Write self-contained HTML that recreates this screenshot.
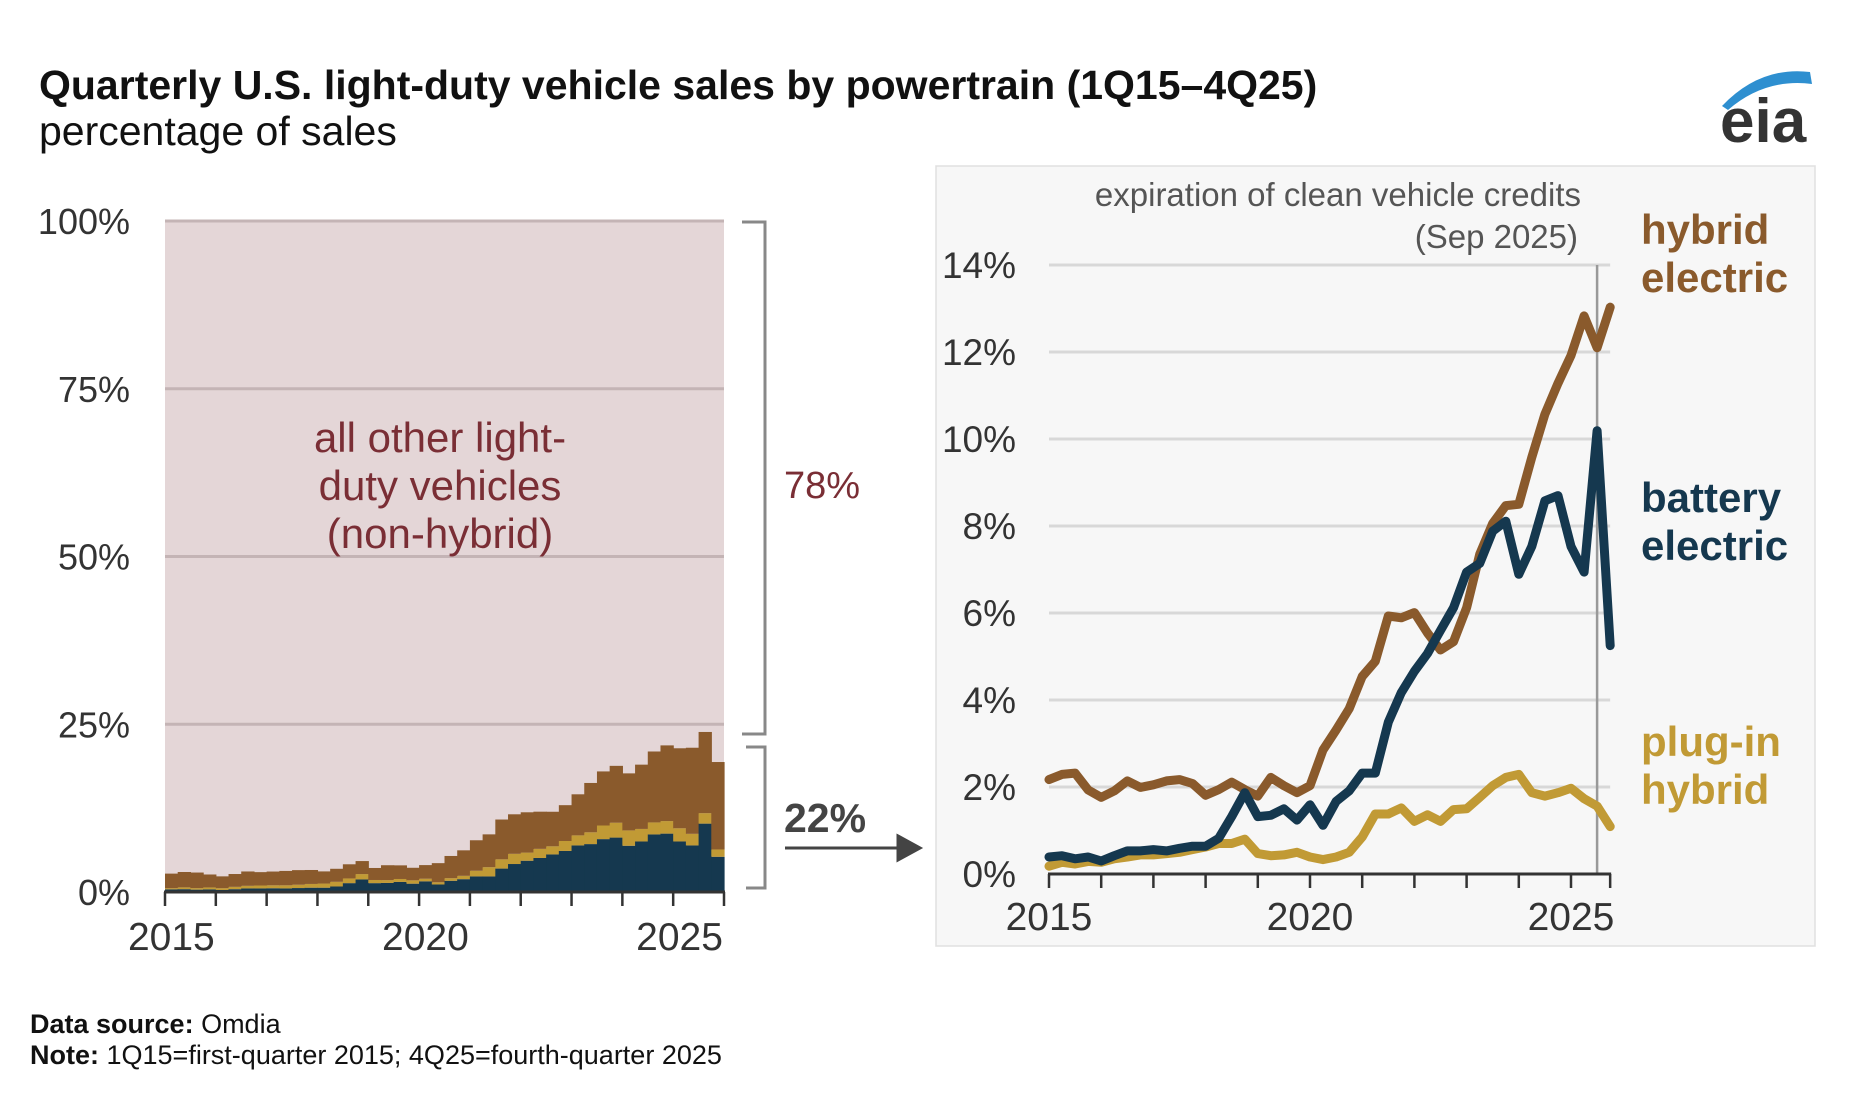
<!DOCTYPE html>
<html><head><meta charset="utf-8"><style>
body{margin:0;background:#fff;}
svg{display:block;font-family:"Liberation Sans",Arial,sans-serif;}
</style></head><body>
<svg id="c" width="1852" height="1100" viewBox="0 0 1852 1100">
<text x="39" y="99" font-size="41" font-weight="bold" fill="#111">Quarterly U.S. light-duty vehicle sales by powertrain (1Q15–4Q25)</text>
<text x="39" y="145" font-size="41" fill="#111">percentage of sales</text>
<g>
<path d="M1722 106 Q1760 66 1810 72 L1812 84 Q1765 78 1728 110 Z" fill="#2e8fd0"/>
<text x="1720" y="142" font-size="62" font-weight="bold" fill="#333">eia</text>
</g>
<g id="left"></g>
<g id="right"></g>
<text x="30" y="1033" font-size="27" fill="#111"><tspan font-weight="bold">Data source:</tspan> Omdia</text>
<text x="30" y="1064" font-size="27" fill="#111"><tspan font-weight="bold">Note:</tspan> 1Q15=first-quarter 2015; 4Q25=fourth-quarter 2025</text>
</svg>
<script>
const years = [2015,2020,2025];
const hev = [2.17,2.29,2.32,1.93,1.76,1.91,2.14,1.99,2.05,2.14,2.17,2.08,1.81,1.94,2.11,1.94,1.79,2.22,2.03,1.87,2.03,2.85,3.31,3.8,4.54,4.89,5.93,5.89,6.01,5.54,5.15,5.34,6.12,7.35,8.06,8.47,8.5,9.58,10.57,11.28,11.92,12.83,12.1,13.03];
const bev = [0.39,0.42,0.35,0.39,0.30,0.42,0.53,0.53,0.56,0.53,0.59,0.64,0.64,0.82,1.32,1.87,1.32,1.35,1.5,1.24,1.59,1.12,1.67,1.91,2.32,2.32,3.49,4.17,4.66,5.07,5.6,6.12,6.94,7.14,7.88,8.11,6.89,7.53,8.58,8.7,7.53,6.94,10.19,5.25];
const phev = [0.18,0.27,0.23,0.29,0.27,0.35,0.39,0.44,0.44,0.47,0.5,0.56,0.62,0.7,0.7,0.8,0.47,0.42,0.44,0.5,0.39,0.33,0.39,0.5,0.85,1.38,1.38,1.52,1.21,1.36,1.21,1.48,1.5,1.76,2.03,2.22,2.29,1.87,1.79,1.87,1.97,1.73,1.56,1.09];
const leftTicks = [0,25,50,75,100];
const rightTicks = [0,2,4,6,8,10,12,14];
const shares = ["78%","22%"];
const NS="http://www.w3.org/2000/svg";
const C={hev:"#8a5a2c",bev:"#15384f",phev:"#c19a35"};
function mk(p,t,a,txt){const e=document.createElementNS(NS,t);for(const k in a)e.setAttribute(k,a[k]);if(txt!==undefined)e.textContent=txt;p.appendChild(e);return e;}
const n=hev.length;
// LEFT
const L=document.getElementById('left');
const lx0=165,lx1=724,ly0=892,ly1=221;
const bw=(lx1-lx0)/n;
const lY=v=>ly0-(v/100)*(ly0-ly1);
const lX=i=>lx0+i*bw;
let bg=mk(L,'rect',{x:lx0,y:ly1,width:lx1-lx0,height:ly0-ly1,fill:'#e4d6d7'});


leftTicks.forEach(t=>{
 if(t>0){let g=mk(L,'line',{x1:lx0,x2:lx1,y1:lY(t),y2:lY(t),stroke:'#c4b4b5','stroke-width':3});
 
 }
 let tx=mk(L,'text',{x:130,y:lY(t)+13,'font-size':36,fill:'#333','text-anchor':'end'},t+'%');
 
 
});
for(let i=0;i<n;i++){
 const b=bev[i],p=phev[i],h=hev[i];
 let r1=mk(L,'rect',{x:lX(i),y:lY(b),width:bw+0.6,height:lY(0)-lY(b),fill:C.bev});
 
 
 let r2=mk(L,'rect',{x:lX(i),y:lY(b+p),width:bw+0.6,height:lY(b)-lY(b+p),fill:C.phev});
 
 
 let r3=mk(L,'rect',{x:lX(i),y:lY(b+p+h),width:bw+0.6,height:lY(b+p)-lY(b+p+h),fill:C.hev});
 
 
}
let ax=mk(L,'line',{x1:lx0-1,x2:lx1+1,y1:ly0,y2:ly0,stroke:'#333','stroke-width':3});


for(let yi=0;yi<=11;yi++){
 let tk=mk(L,'line',{x1:lx0+yi*4*bw,x2:lx0+yi*4*bw,y1:ly0,y2:ly0+14,stroke:'#333','stroke-width':2.5});
 
 
}
years.forEach(y=>{
 let t=mk(L,'text',{x:lX((y-2015)*4)+bw/2,y:950,'font-size':39,fill:'#333','text-anchor':'middle'},y);
 
 
});
['all other light-','duty vehicles','(non-hybrid)'].forEach((s,i)=>{
 let t=mk(L,'text',{x:440,y:452+i*48,'font-size':42,fill:'#7a2e35','text-anchor':'middle'},s);
 
 
});
let br1=mk(L,'path',{d:'M742 222 H765 V734 H742',fill:'none',stroke:'#888','stroke-width':3});


let br2=mk(L,'path',{d:'M746 747 H765 V888 H746',fill:'none',stroke:'#888','stroke-width':3});


let s78=mk(L,'text',{x:784,y:498,'font-size':38,fill:'#7a2e35'},shares[0]);


let s22=mk(L,'text',{x:784,y:832,'font-size':41,'font-weight':'bold',fill:'#444'},shares[1]);


let ar=mk(L,'path',{d:'M785 848 H900 M898 836 L920 848 L898 860 Z',stroke:'#444','stroke-width':3,fill:'#444'});


// RIGHT
const R=document.getElementById('right');
let pn=mk(R,'rect',{x:936,y:166,width:879,height:780,fill:'#f7f7f7',stroke:'#e0e0e0','stroke-width':1.5});


const rx0=1049,pq=13.05,ry0=874,ry14=265;
const rX=i=>rx0+i*pq;
const rY=v=>ry0-(v/14)*(ry0-ry14);
const rx1=rX(n-1);
rightTicks.forEach(t=>{
 if(t>0){let g=mk(R,'line',{x1:rx0,x2:rx1,y1:rY(t),y2:rY(t),stroke:'#d8d8d8','stroke-width':3});
 
 }
 let tx=mk(R,'text',{x:1016,y:rY(t)+13,'font-size':37,fill:'#333','text-anchor':'end'},t+'%');
 
 
});
let vl=mk(R,'line',{x1:rX(42),x2:rX(42),y1:rY(14),y2:ry0,stroke:'#999','stroke-width':2.5});


let a1=mk(R,'text',{x:1581,y:206,'font-size':33,fill:'#555','text-anchor':'end'},'expiration of clean vehicle credits');


let a2=mk(R,'text',{x:1578,y:248,'font-size':33,fill:'#555','text-anchor':'end'},'(Sep 2025)');


function line(arr,col,name){
 let d=arr.map((v,i)=>(i?'L':'M')+rX(i).toFixed(1)+' '+rY(v).toFixed(1)).join(' ');
 let p=mk(R,'path',{d:d,fill:'none',stroke:col,'stroke-width':9,'stroke-linejoin':'round','stroke-linecap':'round'});
 
 
}
line(phev,C.phev,'line-plug-in-hybrid');
line(hev,C.hev,'line-hybrid-electric');
line(bev,C.bev,'line-battery-electric');
let rax=mk(R,'line',{x1:rx0-1,x2:rx1+1,y1:ry0,y2:ry0,stroke:'#333','stroke-width':3});


for(let yi=0;yi<=11;yi++){
 let tk=mk(R,'line',{x1:rX(yi*4)-(yi==11?pq:0),x2:rX(yi*4)-(yi==11?pq:0),y1:ry0,y2:ry0+14,stroke:'#333','stroke-width':2.5});
 
 
}
years.forEach(y=>{
 let t=mk(R,'text',{x:rX((y-2015)*4),y:930,'font-size':39,fill:'#333','text-anchor':'middle'},y);
 
 
});
[['hybrid','electric',C.hev,244,'legend-hybrid-electric'],['battery','electric',C.bev,512,'legend-battery-electric'],['plug-in','hybrid',C.phev,756,'legend-plug-in-hybrid']].forEach(l=>{
 let t=mk(R,'text',{x:1641,y:l[3],'font-size':42,'font-weight':'bold',fill:l[2]});
 
 
 mk(t,'tspan',{x:1641},l[0]);
 mk(t,'tspan',{x:1641,dy:48},l[1]);
});
</script>
</body></html>
